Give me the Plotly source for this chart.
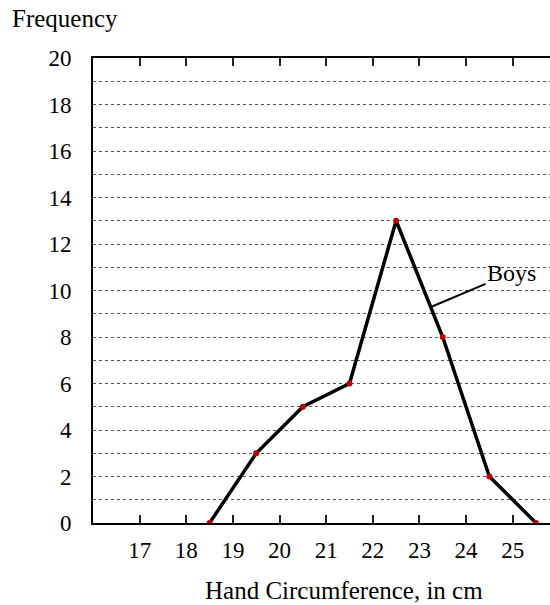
import plotly.graph_objects as go

# hand circumference midpoints and boys frequency
circumference = [18.5, 19.5, 20.5, 21.5, 22.5, 23.5, 24.5, 25.5]
boys = [0, 3, 5, 6, 13, 8, 2, 0]

x_ticks = [17, 18, 19, 20, 21, 22, 23, 24, 25]
y_ticks = [0, 2, 4, 6, 8, 10, 12, 14, 16, 18, 20]

font = "Liberation Serif, Times New Roman, serif"

fig = go.Figure()
fig.add_trace(go.Scatter(
    x=circumference, y=boys,
    mode="lines+markers",
    line=dict(color="black", width=3.5),
    marker=dict(color="#c00000", size=6),
    showlegend=False,
))

fig.update_layout(
    width=550, height=605,
    margin=dict(l=93, r=0, t=58, b=82),
    plot_bgcolor="white", paper_bgcolor="white",
    font=dict(family=font, size=23, color="black"),
)

fig.update_xaxes(
    range=[16, 25.8],
    tickvals=x_ticks,
    ticks="inside", ticklen=8, tickwidth=2, tickcolor="#222",
    showline=True, linecolor="black", linewidth=2, mirror="ticks",
    showgrid=False, zeroline=False,
    ticklabelstandoff=5,
)

fig.update_yaxes(
    range=[0, 20],
    tickvals=y_ticks,
    ticks="",
    showline=True, linecolor="black", linewidth=2, mirror=False,
    showgrid=True, gridcolor="#555", gridwidth=1, griddash="dot",
    minor=dict(dtick=1, showgrid=True, gridcolor="#555", gridwidth=1, griddash="dot"),
    zeroline=False,
    ticklabelstandoff=15,
)

fig.add_annotation(
    text="Frequency", xref="paper", yref="paper", x=-0.182, y=1.086,
    xanchor="left", yanchor="middle", showarrow=False,
    font=dict(size=25),
)

fig.add_annotation(
    text="Hand Circumference, in cm", xref="paper", yref="paper", x=0.24, y=-0.145,
    xanchor="left", yanchor="middle", showarrow=False,
    font=dict(size=25),
)

fig.add_annotation(
    text="Boys", x=23.26, y=9.3,
    showarrow=True, arrowhead=0, arrowwidth=2, arrowcolor="black",
    ax=80, ay=-34, font=dict(size=24),
)

fig.write_html("out.html", config={"displayModeBar": False},
               post_script="document.body.style.margin='0';")
